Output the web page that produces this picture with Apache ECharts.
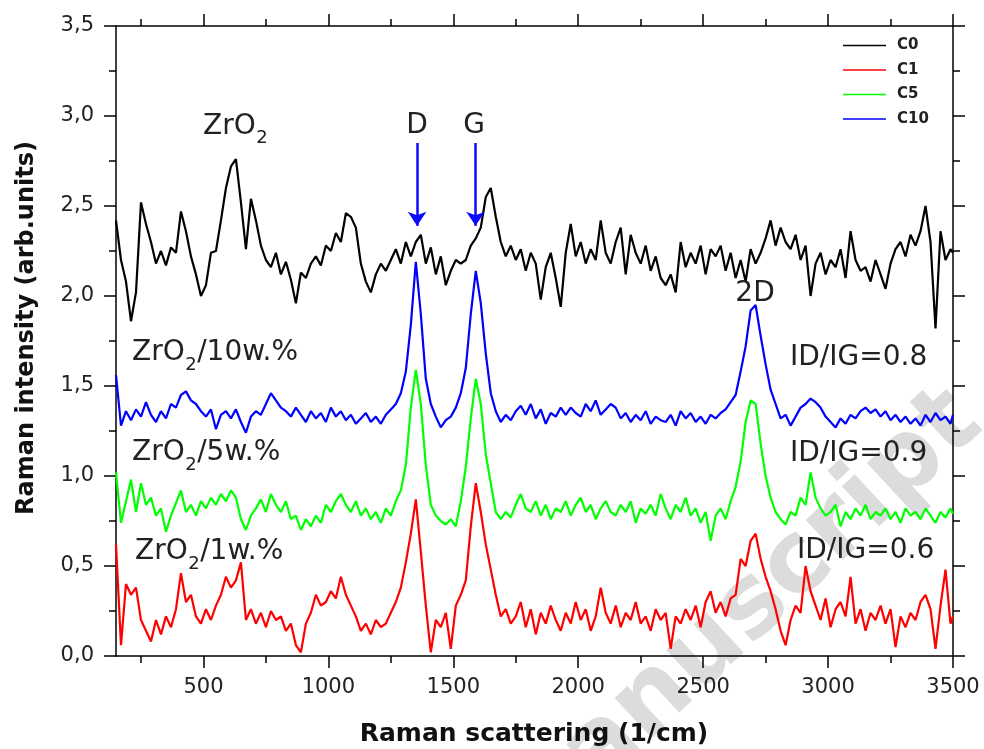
<!DOCTYPE html>
<html>
<head>
<meta charset="utf-8">
<script src="https://cdn.jsdelivr.net/npm/echarts@6/dist/echarts.min.js"></script>
<style>
  html, body { margin: 0; padding: 0; background: #fff; }
  #box { width: 984px; height: 749px; }
</style>
</head>
<body>
<div id="box"></div>
<script>
// wavenumber grid, 150 .. 3490 every 20 cm-1, plus the end point
var shifts = [];
for (var w = 150; w <= 3490; w += 20) shifts.push(w);
shifts.push(3500);

// C0 (pure ZrO2)
var c0 = [
  2.42, 2.20, 2.08, 1.86, 2.02, 2.52, 2.40, 2.30, 2.18, 2.25,
  2.17, 2.27, 2.24, 2.47, 2.36, 2.22, 2.12, 2.00, 2.06, 2.24,
  2.25, 2.42, 2.60, 2.72, 2.76, 2.52, 2.26, 2.54, 2.42, 2.28,
  2.20, 2.16, 2.24, 2.12, 2.19, 2.09, 1.96, 2.13, 2.10, 2.18,
  2.22, 2.17, 2.28, 2.25, 2.35, 2.30, 2.46, 2.44, 2.38, 2.18,
  2.08, 2.02, 2.12, 2.18, 2.14, 2.20, 2.26, 2.18, 2.30, 2.22,
  2.30, 2.34, 2.18, 2.27, 2.12, 2.22, 2.06, 2.14, 2.20, 2.18,
  2.20, 2.28, 2.32, 2.38, 2.55, 2.60, 2.44, 2.30, 2.22, 2.28,
  2.20, 2.26, 2.14, 2.24, 2.18, 1.98, 2.16, 2.24, 2.10, 1.94,
  2.24, 2.40, 2.22, 2.30, 2.18, 2.26, 2.20, 2.42, 2.24, 2.18,
  2.30, 2.38, 2.12, 2.34, 2.24, 2.18, 2.28, 2.14, 2.22, 2.10,
  2.06, 2.12, 2.02, 2.30, 2.16, 2.24, 2.18, 2.28, 2.12, 2.26,
  2.22, 2.28, 2.14, 2.24, 2.10, 2.20, 2.08, 2.26, 2.18, 2.24,
  2.32, 2.42, 2.28, 2.38, 2.30, 2.26, 2.34, 2.20, 2.28, 2.00,
  2.18, 2.24, 2.12, 2.20, 2.16, 2.26, 2.10, 2.36, 2.20, 2.14,
  2.16, 2.08, 2.20, 2.12, 2.04, 2.18, 2.26, 2.30, 2.22, 2.34,
  2.28, 2.36, 2.50, 2.30, 1.82, 2.36, 2.20, 2.26, 2.24
];

// C1 (ZrO2/1w.%)
var c1 = [
  0.62, 0.06, 0.40, 0.34, 0.38, 0.20, 0.14, 0.08, 0.20, 0.12,
  0.22, 0.16, 0.26, 0.46, 0.30, 0.34, 0.22, 0.18, 0.26, 0.20,
  0.28, 0.34, 0.44, 0.38, 0.42, 0.52, 0.20, 0.26, 0.18, 0.24,
  0.16, 0.25, 0.20, 0.22, 0.14, 0.18, 0.06, 0.02, 0.18, 0.24,
  0.34, 0.28, 0.30, 0.36, 0.32, 0.44, 0.34, 0.28, 0.22, 0.14,
  0.18, 0.12, 0.20, 0.16, 0.18, 0.24, 0.30, 0.38, 0.52, 0.68,
  0.87, 0.58, 0.28, 0.02, 0.20, 0.16, 0.24, 0.04, 0.28, 0.34,
  0.42, 0.72, 0.96, 0.80, 0.62, 0.48, 0.34, 0.22, 0.26, 0.18,
  0.22, 0.30, 0.16, 0.26, 0.12, 0.24, 0.18, 0.28, 0.20, 0.14,
  0.24, 0.18, 0.30, 0.20, 0.26, 0.14, 0.22, 0.38, 0.24, 0.18,
  0.28, 0.16, 0.24, 0.20, 0.30, 0.18, 0.22, 0.14, 0.26, 0.20,
  0.24, 0.04, 0.22, 0.18, 0.26, 0.20, 0.28, 0.16, 0.30, 0.36,
  0.24, 0.30, 0.22, 0.32, 0.34, 0.54, 0.50, 0.64, 0.68, 0.54,
  0.44, 0.36, 0.26, 0.14, 0.06, 0.20, 0.28, 0.24, 0.50, 0.36,
  0.28, 0.20, 0.32, 0.16, 0.26, 0.30, 0.22, 0.44, 0.18, 0.26,
  0.14, 0.24, 0.20, 0.28, 0.18, 0.26, 0.05, 0.22, 0.16, 0.24,
  0.20, 0.30, 0.34, 0.26, 0.04, 0.28, 0.48, 0.18, 0.22
];

// C5 (ZrO2/5w.%)
var c5 = [
  1.02, 0.74, 0.86, 0.98, 0.80, 0.96, 0.84, 0.88, 0.78, 0.82,
  0.69, 0.78, 0.85, 0.92, 0.80, 0.84, 0.78, 0.86, 0.82, 0.88,
  0.84, 0.90, 0.86, 0.92, 0.88, 0.76, 0.70, 0.78, 0.82, 0.87,
  0.80, 0.90, 0.84, 0.80, 0.86, 0.76, 0.78, 0.70, 0.76, 0.72,
  0.78, 0.74, 0.84, 0.80, 0.86, 0.90, 0.84, 0.80, 0.86, 0.78,
  0.82, 0.76, 0.80, 0.74, 0.82, 0.78, 0.86, 0.92, 1.06, 1.38,
  1.59, 1.40, 1.06, 0.84, 0.78, 0.75, 0.73, 0.76, 0.72, 0.86,
  1.05, 1.32, 1.54, 1.40, 1.12, 0.96, 0.80, 0.76, 0.80, 0.77,
  0.84, 0.90, 0.82, 0.80, 0.86, 0.78, 0.84, 0.76, 0.82, 0.80,
  0.86, 0.78, 0.84, 0.88, 0.80, 0.84, 0.76, 0.82, 0.86, 0.80,
  0.78, 0.84, 0.80, 0.86, 0.74, 0.82, 0.79, 0.84, 0.78, 0.90,
  0.82, 0.76, 0.84, 0.80, 0.88, 0.78, 0.82, 0.74, 0.80, 0.64,
  0.78, 0.82, 0.76, 0.86, 0.94, 1.08, 1.30, 1.42, 1.40, 1.18,
  1.00, 0.88, 0.80, 0.76, 0.73, 0.80, 0.78, 0.88, 0.84, 1.02,
  0.88, 0.82, 0.78, 0.80, 0.84, 0.72, 0.80, 0.76, 0.82, 0.78,
  0.84, 0.76, 0.80, 0.78, 0.82, 0.76, 0.80, 0.74, 0.82, 0.78,
  0.80, 0.76, 0.82, 0.78, 0.74, 0.80, 0.77, 0.82, 0.79
];

// C10 (ZrO2/10w.%)
var c10 = [
  1.56, 1.28, 1.36, 1.31, 1.37, 1.33, 1.41, 1.34, 1.30, 1.36,
  1.32, 1.40, 1.38, 1.45, 1.47, 1.42, 1.40, 1.36, 1.33, 1.37,
  1.26, 1.34, 1.36, 1.32, 1.37, 1.30, 1.24, 1.33, 1.36, 1.34,
  1.40, 1.46, 1.42, 1.38, 1.36, 1.33, 1.38, 1.34, 1.30, 1.36,
  1.32, 1.35, 1.30, 1.38, 1.33, 1.36, 1.31, 1.34, 1.29, 1.32,
  1.35, 1.30, 1.33, 1.29, 1.34, 1.37, 1.40, 1.46, 1.58, 1.84,
  2.19, 1.90, 1.54, 1.40, 1.33, 1.27, 1.31, 1.33, 1.38, 1.46,
  1.60, 1.90, 2.14, 1.96, 1.68, 1.46, 1.36, 1.30, 1.34, 1.31,
  1.36, 1.39, 1.34, 1.40, 1.32, 1.37, 1.29, 1.35, 1.33, 1.38,
  1.34, 1.38, 1.35, 1.33, 1.40, 1.36, 1.42, 1.34, 1.37, 1.40,
  1.38, 1.32, 1.35, 1.30, 1.34, 1.31, 1.36, 1.29, 1.33, 1.31,
  1.30, 1.34, 1.28, 1.36, 1.32, 1.35, 1.30, 1.33, 1.29, 1.34,
  1.32, 1.35, 1.37, 1.41, 1.45, 1.58, 1.72, 1.92, 1.95, 1.78,
  1.62, 1.48, 1.40, 1.32, 1.34, 1.28, 1.33, 1.38, 1.40, 1.43,
  1.41, 1.38, 1.33, 1.30, 1.27, 1.32, 1.29, 1.34, 1.32, 1.36,
  1.38, 1.35, 1.37, 1.33, 1.36, 1.31, 1.34, 1.30, 1.33, 1.29,
  1.32, 1.28, 1.34, 1.30, 1.35, 1.31, 1.33, 1.29, 1.34
];

var seriesNames = ['C0', 'C1', 'C5', 'C10'];
var seriesColors = ['#000000', '#ff0000', '#00ff00', '#0000ff'];
var xMajor = [500, 1000, 1500, 2000, 2500, 3000, 3500];
var xMinor = [250, 750, 1250, 1750, 2250, 2750, 3250];

function pairs(vals) {
  return vals.map(function (v, i) { return [shifts[i], v]; });
}

var FONT = 'DejaVu Sans';
var axisStroke = { color: '#000', width: 1.5 };

function xAx(pos, ticks, len, labels) {
  return {
    type: 'value', min: 150, max: 3500, position: pos,
    axisLine: { show: labels, lineStyle: axisStroke },
    axisTick: { show: true, customValues: ticks, length: len, inside: false, lineStyle: axisStroke },
    axisLabel: labels && pos === 'bottom'
      ? { show: true, customValues: ticks, fontFamily: FONT, fontSize: 21, color: '#222', margin: 21,
          formatter: function (v) { return String(v); } }
      : { show: false, customValues: ticks },
    splitLine: { show: false }
  };
}

function yAx(pos, labels) {
  return {
    type: 'value', min: 0, max: 3.5, interval: 0.5, position: pos,
    axisLine: { show: true, lineStyle: axisStroke },
    axisTick: { show: true, length: 12, lineStyle: axisStroke },
    minorTick: { show: true, splitNumber: 2, length: 7, lineStyle: axisStroke },
    axisLabel: {
      show: labels, fontFamily: FONT, fontSize: 21, color: '#222', margin: 22,
      formatter: function (v) { return v.toFixed(1).replace('.', ','); }
    },
    splitLine: { show: false }
  };
}

// text width helper for the subscript pieces
var measureCtx = document.createElement('canvas').getContext('2d');
function textW(str, size) {
  measureCtx.font = size + 'px "' + FONT + '"';
  return measureCtx.measureText(str).width;
}

function note(x, y, str, align) {
  return {
    type: 'text', x: x, y: y, z: 50,
    style: {
      text: str, fontFamily: FONT, fontSize: 28, fill: '#222',
      align: align || 'left', verticalAlign: 'middle'
    }
  };
}

// "ZrO" + subscript "2" + tail, cy = centre of the main glyphs
function zrNote(x, cy, tail) {
  var w1 = textW('ZrO', 28);
  var w2 = textW('2', 18);
  var items = [
    note(x, cy, 'ZrO'),
    { type: 'text', x: x + w1 + 0.5, y: cy + 12, z: 50,
      style: { text: '2', fontFamily: FONT, fontSize: 18, fill: '#222', align: 'left', verticalAlign: 'middle' } }
  ];
  if (tail) items.push(note(x + w1 + w2 + 1, cy, tail));
  return items;
}

var myChart = echarts.init(document.getElementById('box'));

var option = {
  animation: false,
  backgroundColor: '#fff',
  grid: { left: 116, right: 31, top: 26, bottom: 93, containLabel: false },
  legend: {
    data: seriesNames,
    orient: 'vertical',
    left: 838, top: 33,
    icon: 'rect', itemWidth: 43, itemHeight: 1.5, itemGap: 9.5,
    textStyle: { fontFamily: FONT, fontWeight: 'bold', fontSize: 15, lineHeight: 14, color: '#222', padding: [0, 0, 0, 6] }
  },
  xAxis: [
    xAx('bottom', xMajor, 12, true),
    xAx('bottom', xMinor, 7, false),
    xAx('top', xMajor, 12, true),
    xAx('top', xMinor, 7, false)
  ],
  yAxis: [yAx('left', true), yAx('right', false)],
  series: seriesNames.map(function (name, k) {
    var s = {
      name: name, type: 'line',
      data: pairs([c0, c1, c5, c10][k]),
      xAxisIndex: 0, yAxisIndex: 0,
      showSymbol: false, symbol: 'none',
      color: seriesColors[k],
      lineStyle: { width: 2.2, color: seriesColors[k] },
      z: 3 + k
    };
    if (name === 'C10') {
      // the D and G markers
      s.markLine = {
        silent: true,
        symbol: ['none', 'arrow'],
        symbolSize: 14,
        label: { show: false },
        lineStyle: { color: '#0a0aff', width: 2.5, type: 'solid' },
        data: [
          [{ coord: [1355, 2.85] }, { coord: [1355, 2.39] }],
          [{ coord: [1589, 2.85] }, { coord: [1589, 2.39] }]
        ]
      };
    }
    return s;
  }),
  graphic: [
    {
      type: 'text', x: 735, y: 625, rotation: 0.75, z: -10,
      style: { text: 'manuscript', fontFamily: FONT, fontWeight: 'bold', fontSize: 100, fill: '#dcdcdc', align: 'center', verticalAlign: 'middle' }
    },
    {
      type: 'text', x: 27, y: 328, rotation: Math.PI / 2, z: 50,
      style: { text: 'Raman intensity (arb.units)', fontFamily: FONT, fontWeight: 'bold', fontSize: 24, fill: '#111', align: 'center', verticalAlign: 'middle' }
    },
    {
      type: 'text', x: 534, y: 734, z: 50,
      style: { text: 'Raman scattering (1/cm)', fontFamily: FONT, fontWeight: 'bold', fontSize: 25, fill: '#111', align: 'center', verticalAlign: 'middle' }
    }
  ].concat(
    zrNote(203, 126.5, ''),
    zrNote(132, 353, '/10w.%'),
    zrNote(132, 453, '/5w.%'),
    zrNote(135, 552, '/1w.%'),
    [
      note(417, 126, 'D', 'center'),
      note(474, 126, 'G', 'center'),
      note(755, 294, '2D', 'center'),
      note(790, 358, 'ID/IG=0.8'),
      note(790, 454, 'ID/IG=0.9'),
      note(797, 551, 'ID/IG=0.6')
    ]
  )
};

myChart.setOption(option);
</script>
</body>
</html>
